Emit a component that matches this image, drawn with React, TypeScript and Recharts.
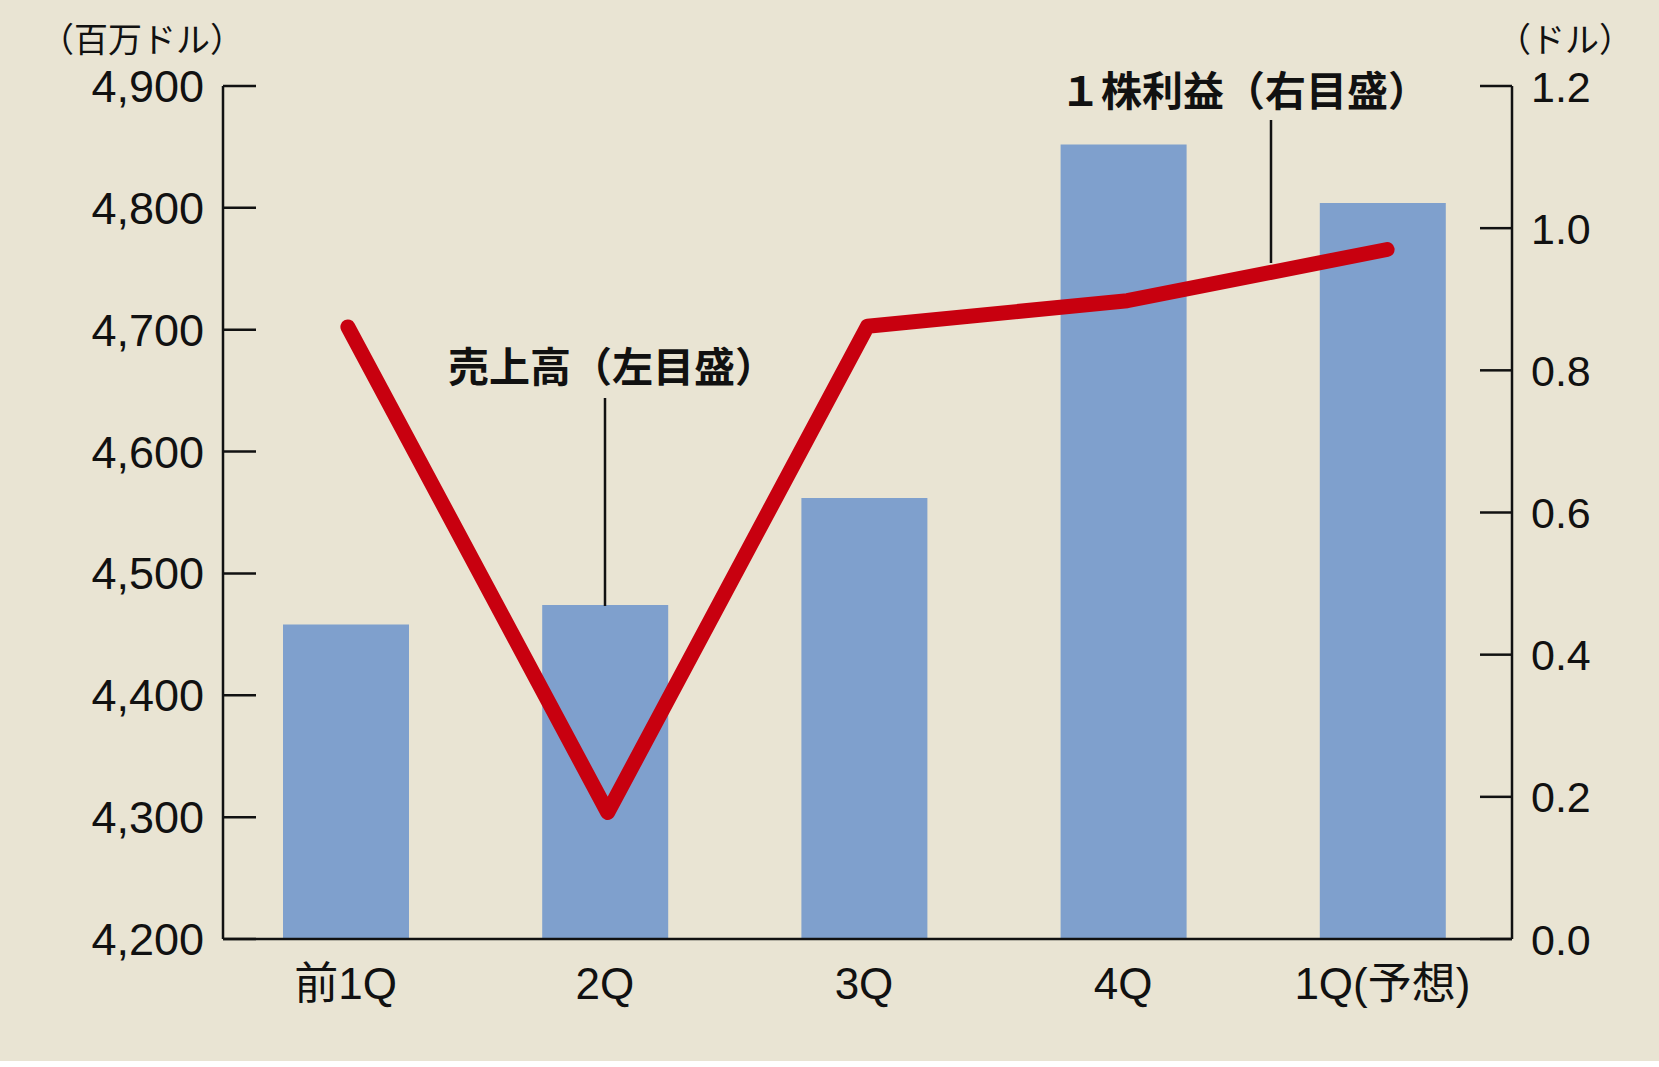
import React from 'react';
import { ComposedChart, Bar, Line, XAxis, YAxis } from 'recharts';

const categories = ['前1Q', '2Q', '3Q', '4Q', '1Q(予想)'];
const sales = [4458, 4474, 4562, 4852, 4804];
const eps = [0.861, 0.178, 0.862, 0.898, 0.97];
const leftTicks = [4200, 4300, 4400, 4500, 4600, 4700, 4800, 4900];
const rightTicks = [0, 0.2, 0.4, 0.6, 0.8, 1.0, 1.2];

const data = categories.map((c, i) => ({ name: c, sales: sales[i], eps: eps[i] }));

const BG = '#E9E4D3';
const BAR = '#7FA0CD';
const RED = '#C8000F';
const INK = '#111111';
const FONT = '"Liberation Sans", Arial, "Noto Sans CJK JP", sans-serif';

const LeftTick = (props: any) => {
  const { x, y, payload } = props;
  return (
    <g>
      <line x1={x} y1={y} x2={x + 33} y2={y} stroke={INK} strokeWidth={2.5} />
      <text x={x - 19} y={y} dy={16} textAnchor="end" fontSize={45} fill={INK} fontFamily={FONT}>
        {Number(payload.value).toLocaleString('en-US')}
      </text>
    </g>
  );
};

const RightTick = (props: any) => {
  const { x, y, payload } = props;
  return (
    <g>
      <line x1={x - 32} y1={y} x2={x} y2={y} stroke={INK} strokeWidth={2.5} />
      <text x={x + 19} y={y} dy={15.5} textAnchor="start" fontSize={43} fill={INK} fontFamily={FONT}>
        {Number(payload.value).toFixed(1)}
      </text>
    </g>
  );
};

const BottomTick = (props: any) => {
  const { x, y, payload } = props;
  return (
    <text x={x} y={y + 60} textAnchor="middle" fontSize={44} fill={INK} fontFamily={FONT}>
      {payload.value}
    </text>
  );
};

export default function App() {
  return (
    <div style={{ position: 'absolute', left: 0, top: 0, width: 1659, height: 1061, background: BG }}>
      <ComposedChart
        width={1659}
        height={1061}
        data={data}
        margin={{ top: 86, right: 47, bottom: 62, left: 143 }}
      >
        <XAxis
          dataKey="name"
          xAxisId="x"
          height={60}
          tickLine={false}
          tickSize={0}
          tickMargin={0}
          axisLine={{ stroke: INK, strokeWidth: 2.5 }}
          tick={<BottomTick />}
          padding={{ left: -7, right: 0 }}
          interval={0}
        />
        <XAxis
          dataKey="name"
          xAxisId="xline"
          height={0}
          hide
          padding={{ left: -5, right: -5 }}
        />
        <YAxis
          yAxisId="left"
          orientation="left"
          width={80}
          domain={[4200, 4900]}
          ticks={leftTicks}
          tickLine={false}
          tickSize={0}
          tickMargin={0}
          axisLine={{ stroke: INK, strokeWidth: 2.5 }}
          tick={<LeftTick />}
          allowDataOverflow
        />
        <YAxis
          yAxisId="right"
          orientation="right"
          width={100}
          domain={[0, 1.2]}
          ticks={rightTicks}
          tickLine={false}
          tickSize={0}
          tickMargin={0}
          axisLine={{ stroke: INK, strokeWidth: 2.5 }}
          tick={<RightTick />}
          allowDataOverflow
        />
        <Bar
          dataKey="sales"
          xAxisId="x"
          yAxisId="left"
          fill={BAR}
          barSize={126}
          isAnimationActive={false}
        />
        <Line
          dataKey="eps"
          xAxisId="xline"
          yAxisId="right"
          type="linear"
          stroke={RED}
          strokeWidth={15}
          strokeLinecap="round"
          strokeLinejoin="round"
          dot={false}
          activeDot={false}
          isAnimationActive={false}
        />
      </ComposedChart>
      <svg
        width={1659}
        height={1061}
        style={{ position: 'absolute', left: 0, top: 0, pointerEvents: 'none' }}
        fontFamily={FONT}
      >
        <text x={40} y={52} fontSize={34} fill={INK}>（百万ドル）</text>
        <text x={1497} y={52} fontSize={34} fill={INK}>（ドル）</text>
        <text x={448} y={382} fontSize={41} fontWeight="bold" fill={INK}>売上高（左目盛）</text>
        <line x1={605} y1={398} x2={605} y2={606} stroke={INK} strokeWidth={2.5} />
        <text x={1060} y={106} fontSize={41} fontWeight="bold" fill={INK}>１株利益（右目盛）</text>
        <line x1={1271} y1={120} x2={1271} y2={263} stroke={INK} strokeWidth={2.5} />
      </svg>
    </div>
  );
}
